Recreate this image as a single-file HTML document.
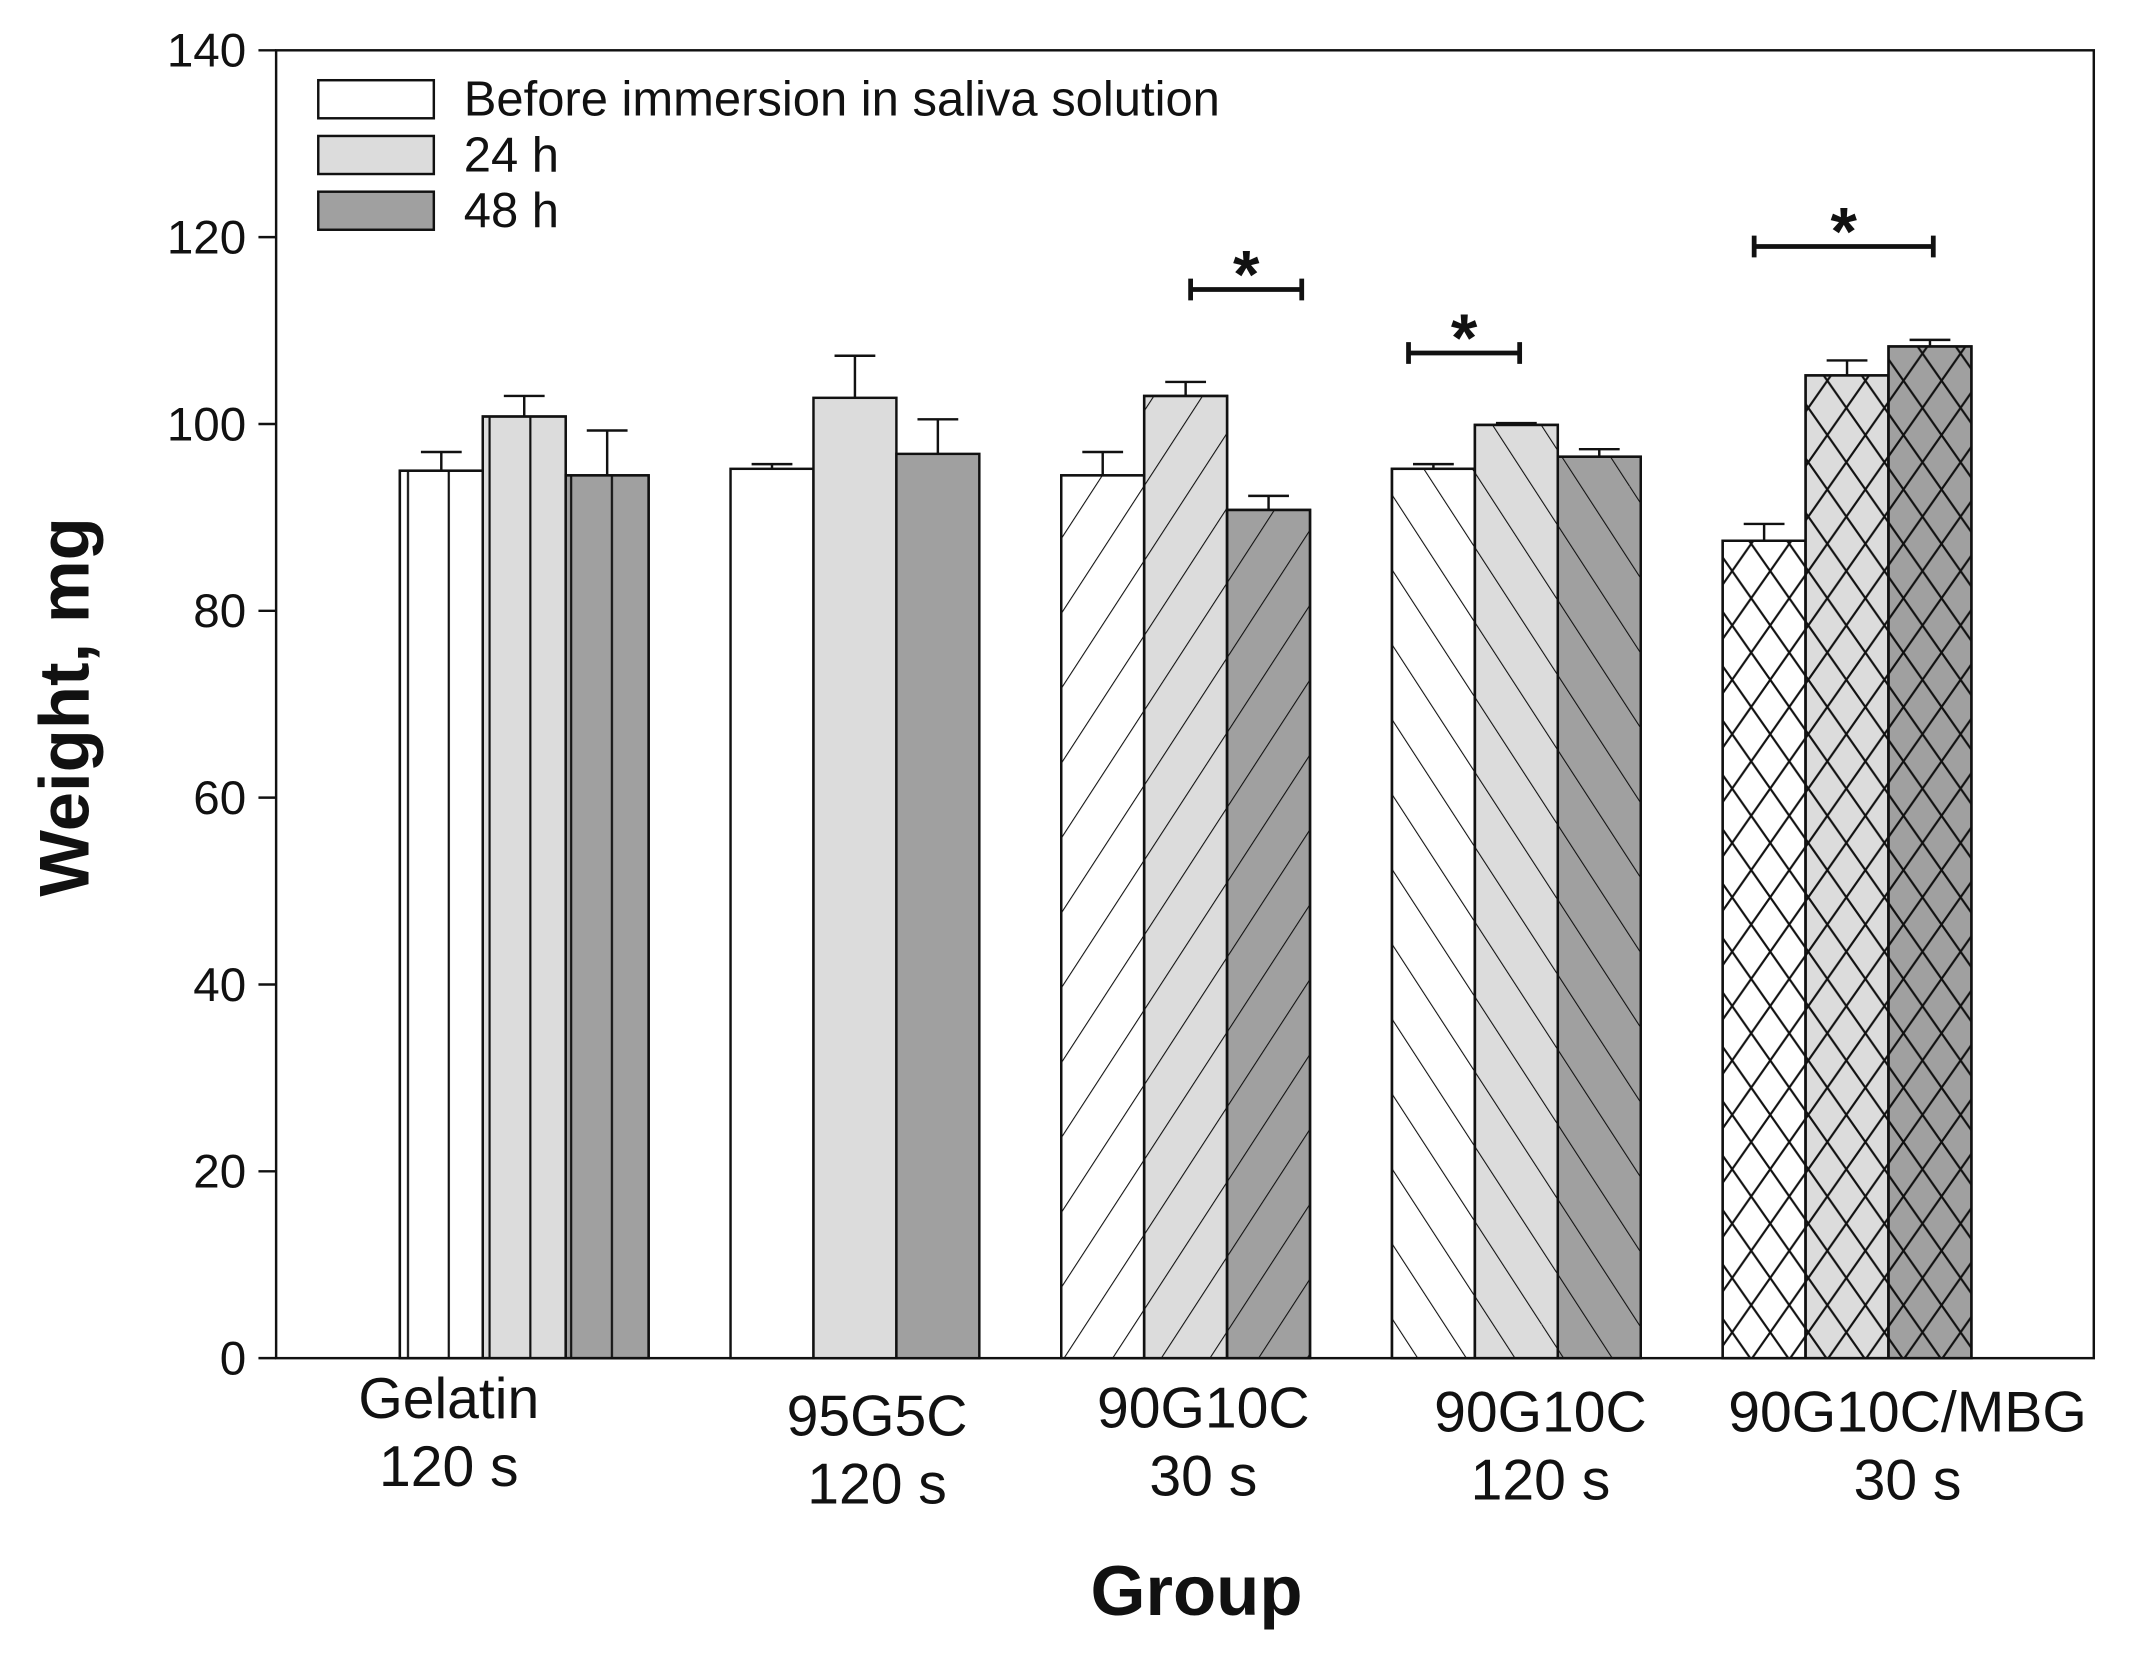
<!DOCTYPE html>
<html><head><meta charset="utf-8"><style>
html,body{margin:0;padding:0;background:#fff}
svg{display:block}
text{font-family:"Liberation Sans",Arial,sans-serif;fill:#111}
</style></head><body>
<svg id="chart" width="2132" height="1679" viewBox="0 0 1568 1235" xmlns="http://www.w3.org/2000/svg">
<defs>
<pattern id="pv" patternUnits="userSpaceOnUse" width="30" height="30" x="298"><line x1="2" y1="0" x2="2" y2="30" stroke="#111" stroke-width="1.6"/></pattern>
<pattern id="pf" patternUnits="userSpaceOnUse" width="30" height="30" patternTransform="rotate(33)"><line x1="0" y1="0" x2="0" y2="30" stroke="#111" stroke-width="1.6"/></pattern>
<pattern id="pb" patternUnits="userSpaceOnUse" width="30" height="30" patternTransform="rotate(-33)"><line x1="0" y1="0" x2="0" y2="30" stroke="#111" stroke-width="1.6"/></pattern>
<pattern id="px" patternUnits="userSpaceOnUse" width="28" height="40"><path d="M0,0 L28,40 M28,0 L0,40" stroke="#111" stroke-width="1.6"/></pattern>
</defs>
<g id="plot"></g>
</svg>
<script>
const categories = [["Gelatin","120 s"],["95G5C","120 s"],["90G10C","30 s"],["90G10C","120 s"],["90G10C/MBG","30 s"]];
const seriesNames = ["Before immersion in saliva solution","24 h","48 h"];
const before = [95.0, 95.2, 94.5, 95.2, 87.5];
const h24 = [100.8, 102.8, 103.0, 99.9, 105.2];
const h48 = [94.5, 96.8, 90.8, 96.5, 108.3];
const errBefore = [2.0, 0.5, 2.5, 0.5, 1.8];
const errH24 = [2.2, 4.5, 1.5, 0.2, 1.6];
const errH48 = [4.8, 3.7, 1.5, 0.8, 0.7];
const yTicks = [0,20,40,60,80,100,120,140];
// [group, start (bar units), end (bar units), yValue]
const sigBrackets = [[2,1.56,2.9,114.4],[3,0.2,1.54,107.6],[4,0.38,2.54,119.0]];
const groupPatterns = ["pv", null, "pf", "pb", "px"];

const NS="http://www.w3.org/2000/svg";
const L=203,R=1540,T=37,B=999,yMax=140;
const y=v=>B-(v/yMax)*(B-T);
const g0=294, gStep=243.25, bw=61;
const xBar=(gi,si)=>g0+gi*gStep+si*bw;
const fills=["#ffffff","#dcdcdc","#a0a0a0"];
const labelX=[330,645,885,1133,1403];
const labelY=[1043,1056,1050,1053,1053];
const plot=document.getElementById('plot');
function mk(tag,attrs,parent){const e=document.createElementNS(NS,tag);for(const k in attrs)e.setAttribute(k,attrs[k]);(parent||plot).appendChild(e);return e;}

const frame=mk('rect',{x:L,y:T,width:R-L,height:B-T,fill:'none',stroke:'#111','stroke-width':1.8});



yTicks.forEach(t=>{
  const ln=mk('line',{x1:L-13,x2:L,y1:y(t),y2:y(t),stroke:'#111','stroke-width':1.8});
  
  
  const tx=mk('text',{x:L-22,y:y(t)+12,'text-anchor':'end','font-size':35});
  tx.textContent=t;
  
  
});

const series=[before,h24,h48], errs=[errBefore,errH24,errH48];
categories.forEach((c,gi)=>{
  series.forEach((s,si)=>{
    const x=xBar(gi,si), top=y(s[gi]);
    const r=mk('rect',{x:x,y:top,width:bw,height:B-top,fill:fills[si],stroke:'#111','stroke-width':1.8});
    
    
    if(groupPatterns[gi]){
      const p=mk('rect',{x:x,y:top,width:bw,height:B-top,fill:'url(#'+groupPatterns[gi]+')',stroke:'#111','stroke-width':1.8});
      
      
    }
    const ev=s[gi]+errs[si][gi], cx=x+bw/2;
    const e=mk('path',{d:`M${cx},${top} L${cx},${y(ev)} M${cx-15},${y(ev)} L${cx+15},${y(ev)}`,stroke:'#111','stroke-width':1.8,fill:'none'});
    
    
  });
  const t1=mk('text',{x:labelX[gi],y:labelY[gi],'text-anchor':'middle','font-size':42});
  t1.textContent=c[0];
  
  
  const t2=mk('text',{x:labelX[gi],y:labelY[gi]+50,'text-anchor':'middle','font-size':42});
  t2.textContent=c[1];
  
  
});

sigBrackets.forEach(b=>{
  const [gi,a,c,v]=b;
  const x1=g0+gi*gStep+a*bw, x2=g0+gi*gStep+c*bw, yy=y(v);
  const p=mk('path',{d:`M${x1},${yy} L${x2},${yy} M${x1},${yy-8} L${x1},${yy+8} M${x2},${yy-8} L${x2},${yy+8}`,stroke:'#111','stroke-width':3.5,fill:'none'});
  
  
  const s=mk('text',{x:(x1+x2)/2,y:yy+6,'text-anchor':'middle','font-size':50,'font-weight':'bold'});
  s.textContent='*';
  
  
});

seriesNames.forEach((n,i)=>{
  const yy=59+i*41;
  const r=mk('rect',{x:234,y:yy,width:85,height:28,fill:fills[i],stroke:'#111','stroke-width':1.8});
  
  
  const t=mk('text',{x:341,y:yy+26,'font-size':36});
  t.textContent=n;
  
  
});

const yt=mk('text',{x:0,y:0,transform:'translate(65,520) rotate(-90)','text-anchor':'middle','font-size':52,'font-weight':'bold'});
yt.textContent='Weight, mg';


const xt=mk('text',{x:880,y:1188,'text-anchor':'middle','font-size':52,'font-weight':'bold'});
xt.textContent='Group';


</script>
</body></html>
